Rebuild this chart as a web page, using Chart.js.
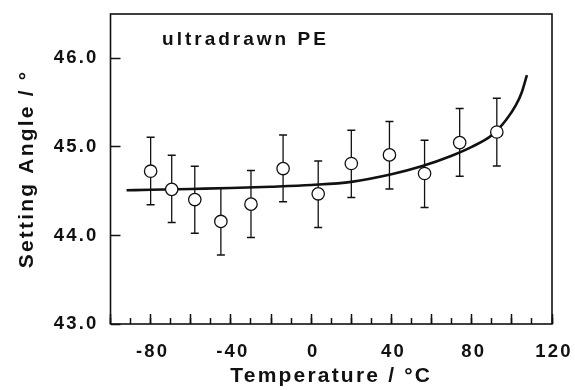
<!DOCTYPE html>
<html>
<head>
<meta charset="utf-8">
<script src="https://cdn.jsdelivr.net/npm/chart.js@4"></script>
<style>
  html, body { margin: 0; padding: 0; background: #fff; }
  #wrap { width: 575px; height: 390px; position: relative; }
</style>
</head>
<body>
<div id="wrap"><canvas id="c" width="575" height="390"></canvas></div>
<script>
// ---- data ----
const temperatures = [-80, -69.5, -58, -45, -30, -14, 3.5, 20, 39, 56.5, 74, 92.5];
const settingAngles = [44.725, 44.52, 44.405, 44.158, 44.353, 44.755, 44.47, 44.812, 44.909, 44.699, 45.048, 45.168];
const errorUpper = [45.108, 44.905, 44.78, 44.533, 44.733, 45.134, 44.841, 45.187, 45.285, 45.074, 45.432, 45.548];
const errorLower = [44.345, 44.147, 44.026, 43.778, 43.977, 44.379, 44.09, 44.428, 44.525, 44.316, 44.669, 44.785];

const fitTemperatures = [-92, -80, -60, -40, -20, 0, 20, 40, 55, 70, 80, 90, 97, 102, 105, 107.5];
const fitAngles = [44.51, 44.515, 44.525, 44.535, 44.55, 44.57, 44.605, 44.69, 44.78, 44.9, 45.0, 45.13, 45.3, 45.47, 45.62, 45.81];

const xTickLabels = [-80, -40, 0, 40, 80, 120];
const yTickLabels = [43.0, 44.0, 45.0, 46.0];
const annotationText = 'ultradrawn PE';
const xTitle = 'Temperature / °C';
const yTitle = 'Setting Angle / °';

// ---- tables built from the arrays ----
const errorBarData = [];
const capData = [];
temperatures.forEach((t, i) => {
  errorBarData.push({x: t, y: errorLower[i]}, {x: t, y: errorUpper[i]}, {x: t, y: null});
  capData.push({x: t, y: errorLower[i]}, {x: t, y: errorUpper[i]});
});
const pointData = temperatures.map((t, i) => ({x: t, y: settingAngles[i]}));
const fitData = fitTemperatures.map((t, i) => ({x: t, y: fitAngles[i]}));

const INK = '#111';
const FONT = '"Liberation Sans", Arial, Helvetica, sans-serif';

function noPad(s) { s.paddingTop = 0; s.paddingBottom = 0; s.paddingLeft = 0; s.paddingRight = 0; }

const spacingPlugin = {
  id: 'spacing',
  beforeDraw(chart) { chart.ctx.letterSpacing = '2.2px'; },
  afterDatasetsDraw(chart) { chart.ctx.letterSpacing = '4.5px'; },
  afterDraw(chart) {
    const ctx = chart.ctx;
    const a = chart.chartArea;
    ctx.save();
    ctx.letterSpacing = '0px';
    ctx.strokeStyle = INK;
    ctx.lineWidth = 1.6;
    ctx.strokeRect(a.left, a.top, a.right - a.left, a.bottom - a.top);
    ctx.letterSpacing = '3px';
    ctx.fillStyle = INK;
    ctx.font = 'bold 19px ' + FONT;
    ctx.textAlign = 'left';
    ctx.textBaseline = 'alphabetic';
    const xs = chart.scales.x, ys = chart.scales.y;
    ctx.fillText(annotationText, xs.getPixelForValue(-74.3), ys.getPixelForValue(46.145));
    ctx.restore();
    ctx.letterSpacing = '0px';
  }
};

new Chart(document.getElementById('c'), {
  data: {
    datasets: [
      {
        type: 'line', data: errorBarData, borderColor: INK, borderWidth: 1.3,
        pointRadius: 0, spanGaps: false, order: 4, tension: 0
      },
      {
        type: 'scatter', data: capData, pointStyle: 'line', pointRadius: 4,
        borderColor: INK, pointBorderWidth: 1.5, borderWidth: 1.5, order: 3
      },
      {
        type: 'line', data: fitData, borderColor: INK, borderWidth: 2.6,
        pointRadius: 0, cubicInterpolationMode: 'monotone', order: 2
      },
      {
        type: 'scatter', data: pointData, pointStyle: 'circle', pointRadius: 6.2,
        backgroundColor: '#fff', borderColor: INK, borderWidth: 1.3, order: 1
      }
    ]
  },
  options: {
    responsive: false,
    animation: false,
    events: [],
    layout: { padding: { left: 0, right: 23, top: 14, bottom: 0 } },
    plugins: { legend: { display: false }, tooltip: { enabled: false } },
    scales: {
      x: {
        type: 'linear', position: 'bottom', min: -100, max: 120, weight: 1,
        afterFit(s) { s.height = 66; noPad(s); },
        border: { display: false },
        grid: { drawOnChartArea: false, drawTicks: true, tickLength: -10, color: INK, tickColor: INK, tickWidth: 1.5 },
        ticks: {
          stepSize: 20, padding: 27, color: INK, labelOffset: 2, maxRotation: 0, autoSkip: false,
          font: { family: FONT, size: 18.5, weight: 'bold' },
          callback: (v) => xTickLabels.includes(v) ? String(v) : ''
        },
        title: { display: true, text: xTitle, color: INK, padding: { top: 0, bottom: 1 },
                 font: { family: FONT, size: 21, weight: 'bold' } }
      },
      xMinor: {
        type: 'linear', position: 'bottom', min: -100, max: 120, weight: 0,
        afterFit(s) { s.height = 0; noPad(s); },
        border: { display: false },
        grid: { drawOnChartArea: false, drawTicks: true, tickLength: -6, color: INK, tickColor: INK, tickWidth: 1.5 },
        ticks: { display: false, stepSize: 10, autoSkip: false },
        title: { display: false }
      },
      y: {
        type: 'linear', position: 'left', min: 43, max: 46.5,
        afterFit(s) { s.width = 110.5; noPad(s); },
        border: { display: false },
        grid: { drawOnChartArea: false, drawTicks: true, tickLength: -10, color: INK, tickColor: INK, tickWidth: 1.5 },
        ticks: {
          stepSize: 1, includeBounds: false, padding: 22, color: INK,
          font: { family: FONT, size: 18.5, weight: 'bold' },
          callback: (v) => yTickLabels.includes(v) ? v.toFixed(1) : ''
        },
        title: { display: true, text: yTitle, color: INK, padding: { top: 15, bottom: 0 },
                 font: { family: FONT, size: 21, weight: 'bold' } }
      }
    }
  },
  plugins: [spacingPlugin]
});
</script>
</body>
</html>
